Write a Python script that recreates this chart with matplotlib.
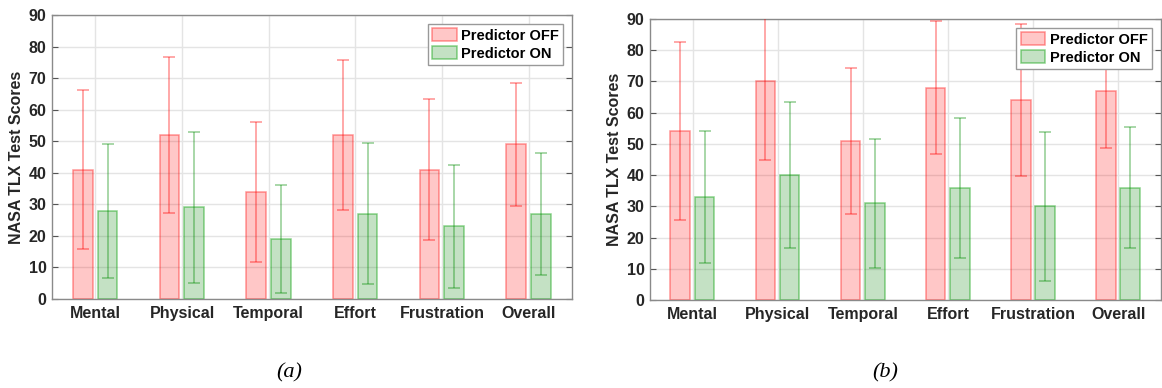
import numpy as np
import matplotlib
matplotlib.use("Agg")
import matplotlib.pyplot as plt

plt.rcParams['font.family'] = ['Liberation Sans', 'DejaVu Sans']

categories = ["Mental", "Physical", "Temporal", "Effort", "Frustration", "Overall"]

# panel (a)
off_a = [41, 52, 34, 52, 41, 49]
off_a_err = [25.3, 24.6, 22.2, 23.7, 22.3, 19.5]
on_a = [28, 29, 19, 27, 23, 27]
on_a_err = [21.2, 23.9, 17.0, 22.3, 19.5, 19.3]

# panel (b)
off_b = [54, 70, 51, 68, 64, 67]
off_b_err = [28.5, 25.3, 23.3, 21.3, 24.3, 18.3]
on_b = [33, 40, 31, 36, 30, 36]
on_b_err = [21.0, 23.4, 20.6, 22.4, 23.8, 19.4]

legend_labels = ["Predictor OFF", "Predictor ON"]

off_face = (1, 0, 0, 0.22)
off_edge = (1, 0.1, 0.1, 0.45)
on_face = (0, 0.5, 0, 0.23)
on_edge = (0, 0.62, 0, 0.45)
txt = "#262626"


def draw(ax, off, off_err, on, on_err):
    x = np.arange(1, len(categories) + 1)
    w = 0.23
    ax.bar(x - 0.145, off, w, color=off_face, edgecolor=off_edge, linewidth=1.1,
           label=legend_labels[0], zorder=2)
    ax.bar(x + 0.14, on, w, color=on_face, edgecolor=on_edge, linewidth=1.1,
           label=legend_labels[1], zorder=2)
    ax.errorbar(x - 0.145, off, yerr=off_err, fmt="none", ecolor=(1, 0, 0, 0.4),
                elinewidth=1.2, capsize=4.5, capthick=1.2, zorder=3)
    ax.errorbar(x + 0.14, on, yerr=on_err, fmt="none", ecolor=(0, 0.55, 0, 0.4),
                elinewidth=1.2, capsize=4.5, capthick=1.2, zorder=3)
    ax.set_xlim(0.5, 6.5)
    ax.set_ylim(0, 90)
    ax.set_yticks(np.arange(0, 91, 10))
    ax.set_xticks(x)
    ax.set_xticklabels(categories)
    ax.grid(True, color="#e4e4e4", linewidth=1.0, zorder=0)
    ax.set_axisbelow(True)
    for s in ax.spines.values():
        s.set_color("#8a8a8a")
        s.set_linewidth(1.0)
    ax.tick_params(direction="in", top=True, right=True, length=4, color="#555555",
                   labelsize=11.5, labelcolor=txt, pad=4)
    ax.tick_params(axis="x", bottom=False, top=False, labelsize=11.5, pad=5)
    for lab in ax.get_xticklabels() + ax.get_yticklabels():
        lab.set_fontweight("bold")
    ax.set_ylabel("NASA TLX Test Scores", fontsize=11.5, fontweight="bold", color=txt,
                  labelpad=3)
    leg = ax.legend(loc="upper right", fontsize=10.5, frameon=True, fancybox=False,
                    handlelength=1.7, handleheight=1.0, handletextpad=0.3,
                    borderpad=0.3, labelspacing=0.25, borderaxespad=0.6)
    leg.get_frame().set_edgecolor("#999999")
    leg.get_frame().set_linewidth(1.0)
    leg.get_frame().set_alpha(1)
    leg.set_zorder(5)
    for t in leg.get_texts():
        t.set_fontweight("bold")
        t.set_color("black")


fig = plt.figure(figsize=(11.62, 3.88), dpi=100)
ax1 = fig.add_axes([0.0448, 0.2294, 0.4475, 0.7320])
ax2 = fig.add_axes([0.5594, 0.2268, 0.4396, 0.7242])

draw(ax1, off_a, off_a_err, on_a, on_a_err)
draw(ax2, off_b, off_b_err, on_b, on_b_err)

fig.text(0.249, 0.04, "(a)", fontsize=16, style="italic",
         family=["Liberation Serif", "DejaVu Serif"], ha="center", va="center")
fig.text(0.762, 0.04, "(b)", fontsize=16, style="italic",
         family=["Liberation Serif", "DejaVu Serif"], ha="center", va="center")

fig.savefig("out.png", dpi=100)
